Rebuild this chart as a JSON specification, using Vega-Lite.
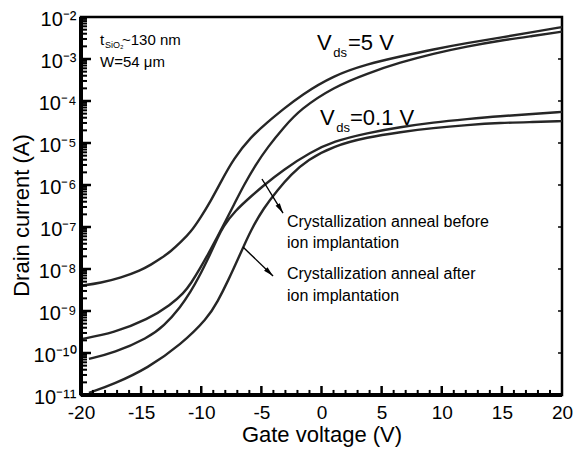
{
  "$schema": "https://vega.github.io/schema/vega-lite/v6.json",
  "width": 481,
  "height": 378,
  "autosize": {"type": "none"},
  "padding": {"left": 81, "top": 17, "right": 12, "bottom": 55},
  "background": "white",
  "config": {
    "font": "Liberation Sans",
    "view": {"stroke": "black", "strokeWidth": 2.5},
    "axis": {
      "grid": false,
      "ticks": false,
      "domain": false,
      "labelColor": "black",
      "titleColor": "black",
      "labelFont": "Liberation Sans",
      "titleFont": "Liberation Sans",
      "titleFontWeight": "normal"
    },
    "text": {"font": "Liberation Sans", "color": "black"},
    "rule": {"color": "black"}
  },
  "datasets": {
    "curves": [
      {"sample": "Vds=5 V, anneal before implant", "gate": -20, "drain": 3.98e-9},
      {"sample": "Vds=5 V, anneal before implant", "gate": -18.34, "drain": 4.68e-9},
      {"sample": "Vds=5 V, anneal before implant", "gate": -16.68, "drain": 6.17e-9},
      {"sample": "Vds=5 V, anneal before implant", "gate": -15.02, "drain": 9.33e-9},
      {"sample": "Vds=5 V, anneal before implant", "gate": -14.19, "drain": 1.26e-8},
      {"sample": "Vds=5 V, anneal before implant", "gate": -13.36, "drain": 1.78e-8},
      {"sample": "Vds=5 V, anneal before implant", "gate": -12.53, "drain": 2.63e-8},
      {"sample": "Vds=5 V, anneal before implant", "gate": -11.70, "drain": 4.37e-8},
      {"sample": "Vds=5 V, anneal before implant", "gate": -10.87, "drain": 7.59e-8},
      {"sample": "Vds=5 V, anneal before implant", "gate": -10.04, "drain": 1.70e-7},
      {"sample": "Vds=5 V, anneal before implant", "gate": -9.21, "drain": 4.17e-7},
      {"sample": "Vds=5 V, anneal before implant", "gate": -8.38, "drain": 1.17e-6},
      {"sample": "Vds=5 V, anneal before implant", "gate": -7.30, "drain": 4.27e-6},
      {"sample": "Vds=5 V, anneal before implant", "gate": -5.89, "drain": 1.38e-5},
      {"sample": "Vds=5 V, anneal before implant", "gate": -4.48, "drain": 3.16e-5},
      {"sample": "Vds=5 V, anneal before implant", "gate": -3.15, "drain": 6.46e-5},
      {"sample": "Vds=5 V, anneal before implant", "gate": -1.74, "drain": 1.35e-4},
      {"sample": "Vds=5 V, anneal before implant", "gate": 1.00, "drain": 4.07e-4},
      {"sample": "Vds=5 V, anneal before implant", "gate": 3.82, "drain": 7.59e-4},
      {"sample": "Vds=5 V, anneal before implant", "gate": 6.56, "drain": 1.15e-3},
      {"sample": "Vds=5 V, anneal before implant", "gate": 9.29, "drain": 1.70e-3},
      {"sample": "Vds=5 V, anneal before implant", "gate": 12.12, "drain": 2.40e-3},
      {"sample": "Vds=5 V, anneal before implant", "gate": 14.86, "drain": 3.24e-3},
      {"sample": "Vds=5 V, anneal before implant", "gate": 17.59, "drain": 4.37e-3},
      {"sample": "Vds=5 V, anneal before implant", "gate": 20, "drain": 5.75e-3},

      {"sample": "Vds=5 V, anneal after implant", "gate": -20, "drain": 2.14e-10},
      {"sample": "Vds=5 V, anneal after implant", "gate": -17.26, "drain": 3.02e-10},
      {"sample": "Vds=5 V, anneal after implant", "gate": -14.44, "drain": 6.31e-10},
      {"sample": "Vds=5 V, anneal after implant", "gate": -12.53, "drain": 1.41e-9},
      {"sample": "Vds=5 V, anneal after implant", "gate": -11.45, "drain": 2.69e-9},
      {"sample": "Vds=5 V, anneal after implant", "gate": -10.87, "drain": 4.47e-9},
      {"sample": "Vds=5 V, anneal after implant", "gate": -10.04, "drain": 1.10e-8},
      {"sample": "Vds=5 V, anneal after implant", "gate": -9.46, "drain": 2.19e-8},
      {"sample": "Vds=5 V, anneal after implant", "gate": -8.63, "drain": 6.03e-8},
      {"sample": "Vds=5 V, anneal after implant", "gate": -7.97, "drain": 1.41e-7},
      {"sample": "Vds=5 V, anneal after implant", "gate": -7.30, "drain": 3.31e-7},
      {"sample": "Vds=5 V, anneal after implant", "gate": -6.47, "drain": 9.77e-7},
      {"sample": "Vds=5 V, anneal after implant", "gate": -5.48, "drain": 3.02e-6},
      {"sample": "Vds=5 V, anneal after implant", "gate": -4.48, "drain": 7.94e-6},
      {"sample": "Vds=5 V, anneal after implant", "gate": -3.15, "drain": 2.34e-5},
      {"sample": "Vds=5 V, anneal after implant", "gate": -1.74, "drain": 6.46e-5},
      {"sample": "Vds=5 V, anneal after implant", "gate": 1.00, "drain": 2.14e-4},
      {"sample": "Vds=5 V, anneal after implant", "gate": 3.82, "drain": 4.57e-4},
      {"sample": "Vds=5 V, anneal after implant", "gate": 6.56, "drain": 8.32e-4},
      {"sample": "Vds=5 V, anneal after implant", "gate": 9.29, "drain": 1.35e-3},
      {"sample": "Vds=5 V, anneal after implant", "gate": 12.12, "drain": 2.00e-3},
      {"sample": "Vds=5 V, anneal after implant", "gate": 14.86, "drain": 2.75e-3},
      {"sample": "Vds=5 V, anneal after implant", "gate": 17.59, "drain": 3.55e-3},
      {"sample": "Vds=5 V, anneal after implant", "gate": 20, "drain": 4.47e-3},

      {"sample": "Vds=0.1 V, anneal before implant", "gate": -19.34, "drain": 7.24e-11},
      {"sample": "Vds=0.1 V, anneal before implant", "gate": -17.26, "drain": 1.0e-10},
      {"sample": "Vds=0.1 V, anneal before implant", "gate": -14.44, "drain": 2.29e-10},
      {"sample": "Vds=0.1 V, anneal before implant", "gate": -13.11, "drain": 4.37e-10},
      {"sample": "Vds=0.1 V, anneal before implant", "gate": -11.70, "drain": 1.26e-9},
      {"sample": "Vds=0.1 V, anneal before implant", "gate": -10.87, "drain": 2.95e-9},
      {"sample": "Vds=0.1 V, anneal before implant", "gate": -10.29, "drain": 5.62e-9},
      {"sample": "Vds=0.1 V, anneal before implant", "gate": -9.21, "drain": 2.40e-8},
      {"sample": "Vds=0.1 V, anneal before implant", "gate": -8.63, "drain": 5.50e-8},
      {"sample": "Vds=0.1 V, anneal before implant", "gate": -8.22, "drain": 1.0e-7},
      {"sample": "Vds=0.1 V, anneal before implant", "gate": -7.14, "drain": 2.51e-7},
      {"sample": "Vds=0.1 V, anneal before implant", "gate": -5.89, "drain": 5.25e-7},
      {"sample": "Vds=0.1 V, anneal before implant", "gate": -4.90, "drain": 9.33e-7},
      {"sample": "Vds=0.1 V, anneal before implant", "gate": -3.15, "drain": 2.34e-6},
      {"sample": "Vds=0.1 V, anneal before implant", "gate": -0.91, "drain": 6.03e-6},
      {"sample": "Vds=0.1 V, anneal before implant", "gate": 1.00, "drain": 1.10e-5},
      {"sample": "Vds=0.1 V, anneal before implant", "gate": 3.82, "drain": 1.74e-5},
      {"sample": "Vds=0.1 V, anneal before implant", "gate": 6.56, "drain": 2.40e-5},
      {"sample": "Vds=0.1 V, anneal before implant", "gate": 9.29, "drain": 3.09e-5},
      {"sample": "Vds=0.1 V, anneal before implant", "gate": 12.12, "drain": 3.72e-5},
      {"sample": "Vds=0.1 V, anneal before implant", "gate": 14.86, "drain": 4.37e-5},
      {"sample": "Vds=0.1 V, anneal before implant", "gate": 17.59, "drain": 4.90e-5},
      {"sample": "Vds=0.1 V, anneal before implant", "gate": 20, "drain": 5.50e-5},

      {"sample": "Vds=0.1 V, anneal after implant", "gate": -19.34, "drain": 1.12e-11},
      {"sample": "Vds=0.1 V, anneal after implant", "gate": -17.26, "drain": 1.82e-11},
      {"sample": "Vds=0.1 V, anneal after implant", "gate": -14.44, "drain": 4.37e-11},
      {"sample": "Vds=0.1 V, anneal after implant", "gate": -11.70, "drain": 1.58e-10},
      {"sample": "Vds=0.1 V, anneal after implant", "gate": -9.46, "drain": 6.76e-10},
      {"sample": "Vds=0.1 V, anneal after implant", "gate": -8.63, "drain": 1.70e-9},
      {"sample": "Vds=0.1 V, anneal after implant", "gate": -7.80, "drain": 5.01e-9},
      {"sample": "Vds=0.1 V, anneal after implant", "gate": -6.72, "drain": 2.40e-8},
      {"sample": "Vds=0.1 V, anneal after implant", "gate": -5.89, "drain": 8.32e-8},
      {"sample": "Vds=0.1 V, anneal after implant", "gate": -4.81, "drain": 2.82e-7},
      {"sample": "Vds=0.1 V, anneal after implant", "gate": -3.65, "drain": 7.59e-7},
      {"sample": "Vds=0.1 V, anneal after implant", "gate": -2.57, "drain": 1.74e-6},
      {"sample": "Vds=0.1 V, anneal after implant", "gate": -1.16, "drain": 3.98e-6},
      {"sample": "Vds=0.1 V, anneal after implant", "gate": 1.00, "drain": 8.51e-6},
      {"sample": "Vds=0.1 V, anneal after implant", "gate": 3.82, "drain": 1.38e-5},
      {"sample": "Vds=0.1 V, anneal after implant", "gate": 6.56, "drain": 1.82e-5},
      {"sample": "Vds=0.1 V, anneal after implant", "gate": 9.29, "drain": 2.29e-5},
      {"sample": "Vds=0.1 V, anneal after implant", "gate": 12.12, "drain": 2.69e-5},
      {"sample": "Vds=0.1 V, anneal after implant", "gate": 14.86, "drain": 3.02e-5},
      {"sample": "Vds=0.1 V, anneal after implant", "gate": 17.59, "drain": 3.16e-5},
      {"sample": "Vds=0.1 V, anneal after implant", "gate": 20, "drain": 3.31e-5}
    ],
    "arrows": [
      {"label": "before", "gate": -4.95, "drain": 1.39e-6, "gate_end": -3.20, "drain_end": 2.15e-7},
      {"label": "after", "gate": -6.53, "drain": 3.34e-8, "gate_end": -4.03, "drain_end": 6.81e-9}
    ],
    "gateMajor": [
      {"gate": -15}, {"gate": -10}, {"gate": -5}, {"gate": 0}, {"gate": 5}, {"gate": 10}, {"gate": 15}
    ],
    "gateMinor": [
      {"gate": -19}, {"gate": -18}, {"gate": -17}, {"gate": -16}, {"gate": -14}, {"gate": -13}, {"gate": -12}, {"gate": -11},
      {"gate": -9}, {"gate": -8}, {"gate": -7}, {"gate": -6}, {"gate": -4}, {"gate": -3}, {"gate": -2}, {"gate": -1},
      {"gate": 1}, {"gate": 2}, {"gate": 3}, {"gate": 4}, {"gate": 6}, {"gate": 7}, {"gate": 8}, {"gate": 9},
      {"gate": 11}, {"gate": 12}, {"gate": 13}, {"gate": 14}, {"gate": 16}, {"gate": 17}, {"gate": 18}, {"gate": 19}
    ],
    "drainMajor": [
      {"drain": 1e-10}, {"drain": 1e-9}, {"drain": 1e-8}, {"drain": 1e-7}, {"drain": 1e-6}, {"drain": 1e-5}, {"drain": 1e-4}, {"drain": 1e-3}
    ],
    "drainMinor": [
      {"drain": 2e-11}, {"drain": 3e-11}, {"drain": 4e-11}, {"drain": 5e-11}, {"drain": 6e-11}, {"drain": 7e-11}, {"drain": 8e-11}, {"drain": 9e-11},
      {"drain": 2e-10}, {"drain": 3e-10}, {"drain": 4e-10}, {"drain": 5e-10}, {"drain": 6e-10}, {"drain": 7e-10}, {"drain": 8e-10}, {"drain": 9e-10},
      {"drain": 2e-9}, {"drain": 3e-9}, {"drain": 4e-9}, {"drain": 5e-9}, {"drain": 6e-9}, {"drain": 7e-9}, {"drain": 8e-9}, {"drain": 9e-9},
      {"drain": 2e-8}, {"drain": 3e-8}, {"drain": 4e-8}, {"drain": 5e-8}, {"drain": 6e-8}, {"drain": 7e-8}, {"drain": 8e-8}, {"drain": 9e-8},
      {"drain": 2e-7}, {"drain": 3e-7}, {"drain": 4e-7}, {"drain": 5e-7}, {"drain": 6e-7}, {"drain": 7e-7}, {"drain": 8e-7}, {"drain": 9e-7},
      {"drain": 2e-6}, {"drain": 3e-6}, {"drain": 4e-6}, {"drain": 5e-6}, {"drain": 6e-6}, {"drain": 7e-6}, {"drain": 8e-6}, {"drain": 9e-6},
      {"drain": 2e-5}, {"drain": 3e-5}, {"drain": 4e-5}, {"drain": 5e-5}, {"drain": 6e-5}, {"drain": 7e-5}, {"drain": 8e-5}, {"drain": 9e-5},
      {"drain": 2e-4}, {"drain": 3e-4}, {"drain": 4e-4}, {"drain": 5e-4}, {"drain": 6e-4}, {"drain": 7e-4}, {"drain": 8e-4}, {"drain": 9e-4},
      {"drain": 2e-3}, {"drain": 3e-3}, {"drain": 4e-3}, {"drain": 5e-3}, {"drain": 6e-3}, {"drain": 7e-3}, {"drain": 8e-3}, {"drain": 9e-3}
    ]
  },
  "layer": [
    {
      "data": {"name": "curves"},
      "mark": {"type": "line", "stroke": "#262626", "strokeWidth": 2.4, "interpolate": "basis"},
      "encoding": {
        "x": {
          "field": "gate",
          "type": "quantitative",
          "scale": {"domain": [-20, 20], "nice": false, "zero": false},
          "axis": {
            "orient": "bottom",
            "values": [-20, -15, -10, -5, 0, 5, 10, 15, 20],
            "labelExpr": "'' + datum.value",
            "labelFontSize": 19,
            "labelPadding": 8,
            "labelFlush": false,
            "title": "Gate voltage (V)",
            "titleFontSize": 22,
            "titlePadding": 2
          }
        },
        "y": {
          "field": "drain",
          "type": "quantitative",
          "scale": {"type": "log", "domain": [1e-11, 1e-2], "nice": false},
          "axis": {
            "orient": "left",
            "values": [1e-11, 1e-10, 1e-9, 1e-8, 1e-7, 1e-6, 1e-5, 1e-4, 1e-3, 1e-2],
            "labelFontSize": 20,
            "labelPadding": 5,
            "labelOffset": 2,
            "labelOverlap": false,
            "labelExpr": "'10⁻' + ['⁰','¹','²','³','⁴','⁵','⁶','⁷','⁸','⁹','¹⁰','¹¹'][round(-log(datum.value) / LN10)]",
            "title": "Drain current (A)",
            "titleFontSize": 22,
            "titleX": -48,
            "titleY": 198
          }
        },
        "detail": {"field": "sample"}
      }
    },
    {
      "data": {"values": [{"edge": "left"}]},
      "transform": [
        {"calculate": "-20", "as": "edge_gate"},
        {"calculate": "1e-11", "as": "edge_lo"},
        {"calculate": "1e-2", "as": "edge_hi"}
      ],
      "mark": {"type": "rule", "strokeWidth": 4},
      "encoding": {
        "x": {"field": "edge_gate", "type": "quantitative", "axis": null},
        "y": {"field": "edge_lo", "type": "quantitative", "axis": null},
        "y2": {"field": "edge_hi"}
      }
    },
    {
      "data": {"values": [{"edge": "bottom"}]},
      "transform": [
        {"calculate": "-20", "as": "edge_from"},
        {"calculate": "20", "as": "edge_to"},
        {"calculate": "1e-11", "as": "edge_drain"}
      ],
      "mark": {"type": "rule", "strokeWidth": 4},
      "encoding": {
        "x": {"field": "edge_from", "type": "quantitative", "axis": null},
        "x2": {"field": "edge_to"},
        "y": {"field": "edge_drain", "type": "quantitative", "axis": null}
      }
    },
    {
      "data": {"name": "gateMajor"},
      "transform": [
        {"calculate": "1e-11", "as": "tick_base"},
        {"calculate": "1.64e-11", "as": "tick_tip"}
      ],
      "mark": {"type": "rule", "strokeWidth": 2.5},
      "encoding": {
        "x": {"field": "gate", "type": "quantitative", "axis": null},
        "y": {"field": "tick_base", "type": "quantitative", "axis": null},
        "y2": {"field": "tick_tip"}
      }
    },
    {
      "data": {"name": "gateMinor"},
      "transform": [
        {"calculate": "1e-11", "as": "tick_base"},
        {"calculate": "1.32e-11", "as": "tick_tip"}
      ],
      "mark": {"type": "rule", "strokeWidth": 2},
      "encoding": {
        "x": {"field": "gate", "type": "quantitative", "axis": null},
        "y": {"field": "tick_base", "type": "quantitative", "axis": null},
        "y2": {"field": "tick_tip"}
      }
    },
    {
      "data": {"name": "drainMajor"},
      "transform": [
        {"calculate": "-20", "as": "tick_base"},
        {"calculate": "-19.17", "as": "tick_tip"}
      ],
      "mark": {"type": "rule", "strokeWidth": 2.5},
      "encoding": {
        "x": {"field": "tick_base", "type": "quantitative", "axis": null},
        "x2": {"field": "tick_tip"},
        "y": {"field": "drain", "type": "quantitative", "axis": null}
      }
    },
    {
      "data": {"name": "drainMinor"},
      "transform": [
        {"calculate": "-20", "as": "tick_base"},
        {"calculate": "-19.5", "as": "tick_tip"}
      ],
      "mark": {"type": "rule", "strokeWidth": 2},
      "encoding": {
        "x": {"field": "tick_base", "type": "quantitative", "axis": null},
        "x2": {"field": "tick_tip"},
        "y": {"field": "drain", "type": "quantitative", "axis": null}
      }
    },
    {
      "data": {"name": "drainMajor"},
      "transform": [
        {"calculate": "20", "as": "tick_base"},
        {"calculate": "19.67", "as": "tick_tip"}
      ],
      "mark": {"type": "rule", "strokeWidth": 1.5},
      "encoding": {
        "x": {"field": "tick_base", "type": "quantitative", "axis": null},
        "x2": {"field": "tick_tip"},
        "y": {"field": "drain", "type": "quantitative", "axis": null}
      }
    },
    {
      "data": {"name": "arrows"},
      "mark": {"type": "rule", "strokeWidth": 1.4},
      "encoding": {
        "x": {"field": "gate", "type": "quantitative", "axis": null},
        "y": {"field": "drain", "type": "quantitative", "axis": null},
        "x2": {"field": "gate_end"},
        "y2": {"field": "drain_end"}
      }
    },
    {
      "data": {"name": "arrows"},
      "transform": [{"filter": "datum.label == 'before'"}],
      "mark": {"type": "point", "shape": "M0,0L-2.4,-0.6L-2.4,0.6Z", "filled": true, "color": "black", "opacity": 1, "size": 70, "angle": 58},
      "encoding": {
        "x": {"field": "gate_end", "type": "quantitative", "axis": null},
        "y": {"field": "drain_end", "type": "quantitative", "axis": null}
      }
    },
    {
      "data": {"name": "arrows"},
      "transform": [{"filter": "datum.label == 'after'"}],
      "mark": {"type": "point", "shape": "M0,0L-2.4,-0.6L-2.4,0.6Z", "filled": true, "color": "black", "opacity": 1, "size": 70, "angle": 44},
      "encoding": {
        "x": {"field": "gate_end", "type": "quantitative", "axis": null},
        "y": {"field": "drain_end", "type": "quantitative", "axis": null}
      }
    },
    {
      "data": {"values": [
        {"note": "t", "gate": -18.42, "drain": 2.15e-3},
        {"note": "~130 nm", "gate": -16.59, "drain": 2.15e-3},
        {"note": "W=54 μm", "gate": -18.42, "drain": 6.46e-4}
      ]},
      "mark": {"type": "text", "align": "left", "baseline": "alphabetic", "fontSize": 15},
      "encoding": {
        "x": {"field": "gate", "type": "quantitative", "axis": null},
        "y": {"field": "drain", "type": "quantitative", "axis": null},
        "text": {"field": "note"}
      }
    },
    {
      "data": {"values": [
        {"note": "SiO₂", "gate": -18.0, "drain": 1.83e-3}
      ]},
      "mark": {"type": "text", "align": "left", "baseline": "alphabetic", "fontSize": 9},
      "encoding": {
        "x": {"field": "gate", "type": "quantitative", "axis": null},
        "y": {"field": "drain", "type": "quantitative", "axis": null},
        "text": {"field": "note"}
      }
    },
    {
      "data": {"values": [
        {"note": "V", "gate": -0.37, "drain": 1.64e-3},
        {"note": "=5 V", "gate": 2.20, "drain": 1.64e-3},
        {"note": "V", "gate": -0.13, "drain": 2.68e-5},
        {"note": "=0.1 V", "gate": 2.37, "drain": 2.68e-5}
      ]},
      "mark": {"type": "text", "align": "left", "baseline": "alphabetic", "fontSize": 22},
      "encoding": {
        "x": {"field": "gate", "type": "quantitative", "axis": null},
        "y": {"field": "drain", "type": "quantitative", "axis": null},
        "text": {"field": "note"}
      }
    },
    {
      "data": {"values": [
        {"note": "ds", "gate": 0.98, "drain": 1.12e-3},
        {"note": "ds", "gate": 1.23, "drain": 1.86e-5}
      ]},
      "mark": {"type": "text", "align": "left", "baseline": "alphabetic", "fontSize": 13},
      "encoding": {
        "x": {"field": "gate", "type": "quantitative", "axis": null},
        "y": {"field": "drain", "type": "quantitative", "axis": null},
        "text": {"field": "note"}
      }
    },
    {
      "data": {"values": [
        {"note": "Crystallization anneal before", "gate": -2.87, "drain": 1.0e-7},
        {"note": "ion implantation", "gate": -2.87, "drain": 3.16e-8},
        {"note": "Crystallization anneal after", "gate": -2.87, "drain": 5.78e-9},
        {"note": "ion implantation", "gate": -2.87, "drain": 1.73e-9}
      ]},
      "mark": {"type": "text", "align": "left", "baseline": "alphabetic", "fontSize": 16},
      "encoding": {
        "x": {"field": "gate", "type": "quantitative", "axis": null},
        "y": {"field": "drain", "type": "quantitative", "axis": null},
        "text": {"field": "note"}
      }
    }
  ],
  "resolve": {"axis": {"x": "independent", "y": "independent"}}
}
